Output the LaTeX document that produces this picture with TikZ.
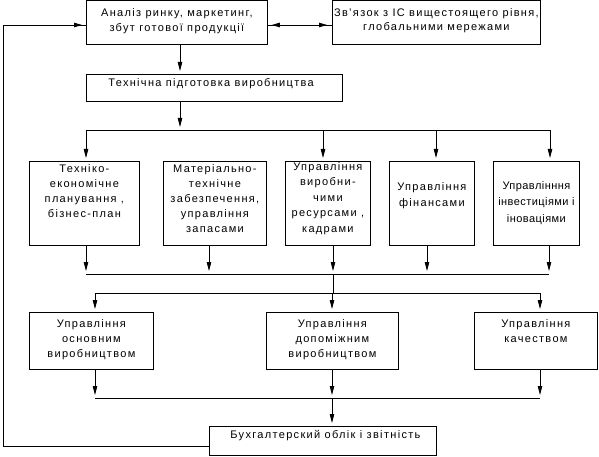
\documentclass[tikz,border=0pt]{standalone}
\usepackage{fontspec}
\setmainfont{Liberation Sans}[LetterSpace=12]
\usetikzlibrary{arrows.meta}
% width, height, first baseline, baselineskip, text
\newcommand\bxt[5]{\parbox[c][#2pt][t]{#1pt}{\fontsize{11}{#4pt}\selectfont\centering\rule{0pt}{#3pt}#5\par}}
% width, height, first baseline, indent, text
\newcommand\bxl[5]{\parbox[c][#2pt][t]{#1pt}{\fontsize{11}{15pt}\selectfont\raggedright\hspace*{#4pt}\rule{0pt}{#3pt}#5\par}}
\newcommand\onel[1]{\makebox[0pt][c]{#1}}
\begin{document}
\begin{tikzpicture}[x=1pt,y=-1pt,
  box/.style={draw, line width=0.8pt, inner sep=0pt, anchor=north west},
  ln/.style={line width=0.8pt},
  arr/.style={line width=0.8pt, -{Triangle[length=9pt,width=4.5pt]}, shorten >=3pt},
  harr/.style={line width=0.8pt, -{Triangle[length=8pt,width=4.5pt]}, shorten >=4pt},
  darr/.style={line width=0.8pt, {Triangle[length=8pt,width=4.5pt]}-{Triangle[length=8pt,width=4.5pt]}, shorten >=5pt, shorten <=4pt}]
\useasboundingbox (0,0) rectangle (599,457);
% boxes
\node[box] (b1) at (86,0) {\bxt{181}{44}{16}{15}{Аналіз ринку, маркетинг,\\збут готової продукції}};
\node[box] (b2) at (332,0) {\bxt{208}{44}{16}{14}{\onel{Зв'язок з ІС вищестоящего рівня,}\\глобальними мережами}};
\node[box] (b3) at (86,74) {\bxl{256}{27}{12}{22}{Технічна підготовка виробництва}};
\node[box] (rA) at (29,161) {\bxt{110}{84}{11}{15}{Техніко-\\економічне\\планування ,\\бізнес-план}};
\node[box] (rB) at (163,161) {\bxt{103}{84}{11}{15}{Матеріально-\\технічне\\забезпечення,\\управління\\запасами}};
\node[box] (rC) at (285,161) {\bxt{85}{84}{9}{15.5}{Управління\\виробни-\\чими\\ресурсами ,\\кадрами}};
\node[box] (rD) at (389,161) {\bxt{85}{84}{29}{16.5}{Управління\\фінансами}};
\node[box] (rE) at (493,161) {\bxt{86}{84}{28}{16.5}{\addfontfeature{LetterSpace=4}\onel{Управлінння}\\\onel{інвестиціями і}\\іноваціями}};
\node[box] (rF) at (29,312) {\bxt{124}{57}{15}{15}{Управління\\основним\\виробництвом}};
\node[box] (rG) at (266,312) {\bxt{132}{57}{15}{15}{Управління\\допоміжним\\виробництвом}};
\node[box] (rH) at (474,312) {\bxt{123}{57}{15}{15}{Управління\\качеством}};
\node[box] (rI) at (209,426) {\bxl{227}{29}{12}{21}{Бухгалтерский облік і звітність}};
% coordinates
\coordinate (k25) at (0,25);
\coordinate (k180) at (180,0);
\coordinate (k86) at (86,0);
\coordinate (k209) at (209,0);
\coordinate (k323) at (323,0);
\coordinate (k333) at (333,0);
\coordinate (k427) at (427,0);
\coordinate (k436) at (436,0);
\coordinate (k549) at (549,0);
\coordinate (k550) at (550,0);
\coordinate (k95) at (95,0);
\coordinate (k332) at (332,0);
\coordinate (k540) at (540,0);
\coordinate (pA1) at (86,130);
\coordinate (pA2) at (550,130);
\coordinate (pB1) at (86,274);
\coordinate (pB2) at (549,274);
\coordinate (pC1) at (95,293);
\coordinate (pC2) at (540,293);
\coordinate (pD1) at (95,398);
\coordinate (pD2) at (540,398);
\coordinate (fb1) at (3,446);
\coordinate (fb2) at (3,25);
% top connections
\draw[ln] (b1.east |- k25) -- (b2.west |- k25);
\draw[darr] (b1.east |- k25) -- (b2.west |- k25);
\draw[arr] (b1.south -| k180) -- (b3.north -| k180);
\draw[arr] (b3.south -| k180) -- (k180 |- pA1);
% bus A
\draw[ln] (pA1) -- (pA2);
\draw[arr] (pA1) -- (pA1 |- rA.north);
\draw[arr] (k323 |- pA1) -- (k323 |- rC.north);
\draw[arr] (k436 |- pA1) -- (k436 |- rD.north);
\draw[arr] (pA2) -- (pA2 |- rE.north);
% to bus B
\draw[arr] (rA.south -| k86) -- (pB1);
\draw[arr] (rB.south -| k209) -- (k209 |- pB1);
\draw[arr] (rC.south -| k333) -- (k333 |- pB1);
\draw[arr] (rD.south -| k427) -- (k427 |- pB1);
\draw[arr] (rE.south -| k549) -- (pB2);
\draw[ln] (pB1) -- (pB2);
\draw[ln] (k333 |- pB1) -- (k333 |- pC1);
% bus C
\draw[ln] (pC1) -- (pC2);
\draw[arr] (pC1) -- (pC1 |- rF.north);
\draw[arr] (k332 |- pC1) -- (k332 |- rG.north);
\draw[arr] (pC2) -- (pC2 |- rH.north);
% to bus D
\draw[arr] (rF.south -| k95) -- (pD1);
\draw[arr] (rG.south -| k332) -- (k332 |- pD1);
\draw[arr] (rH.south -| k540) -- (pD2);
\draw[ln] (pD1) -- (pD2);
\draw[arr] (k332 |- pD1) -- (rI.north -| k332);
% feedback
\draw[ln] (rI.west |- fb1) -- (fb1) -- (fb2) -- (b1.west |- fb2);
\draw[harr] (fb2) -- (b1.west |- fb2);
\end{tikzpicture}
\end{document}
